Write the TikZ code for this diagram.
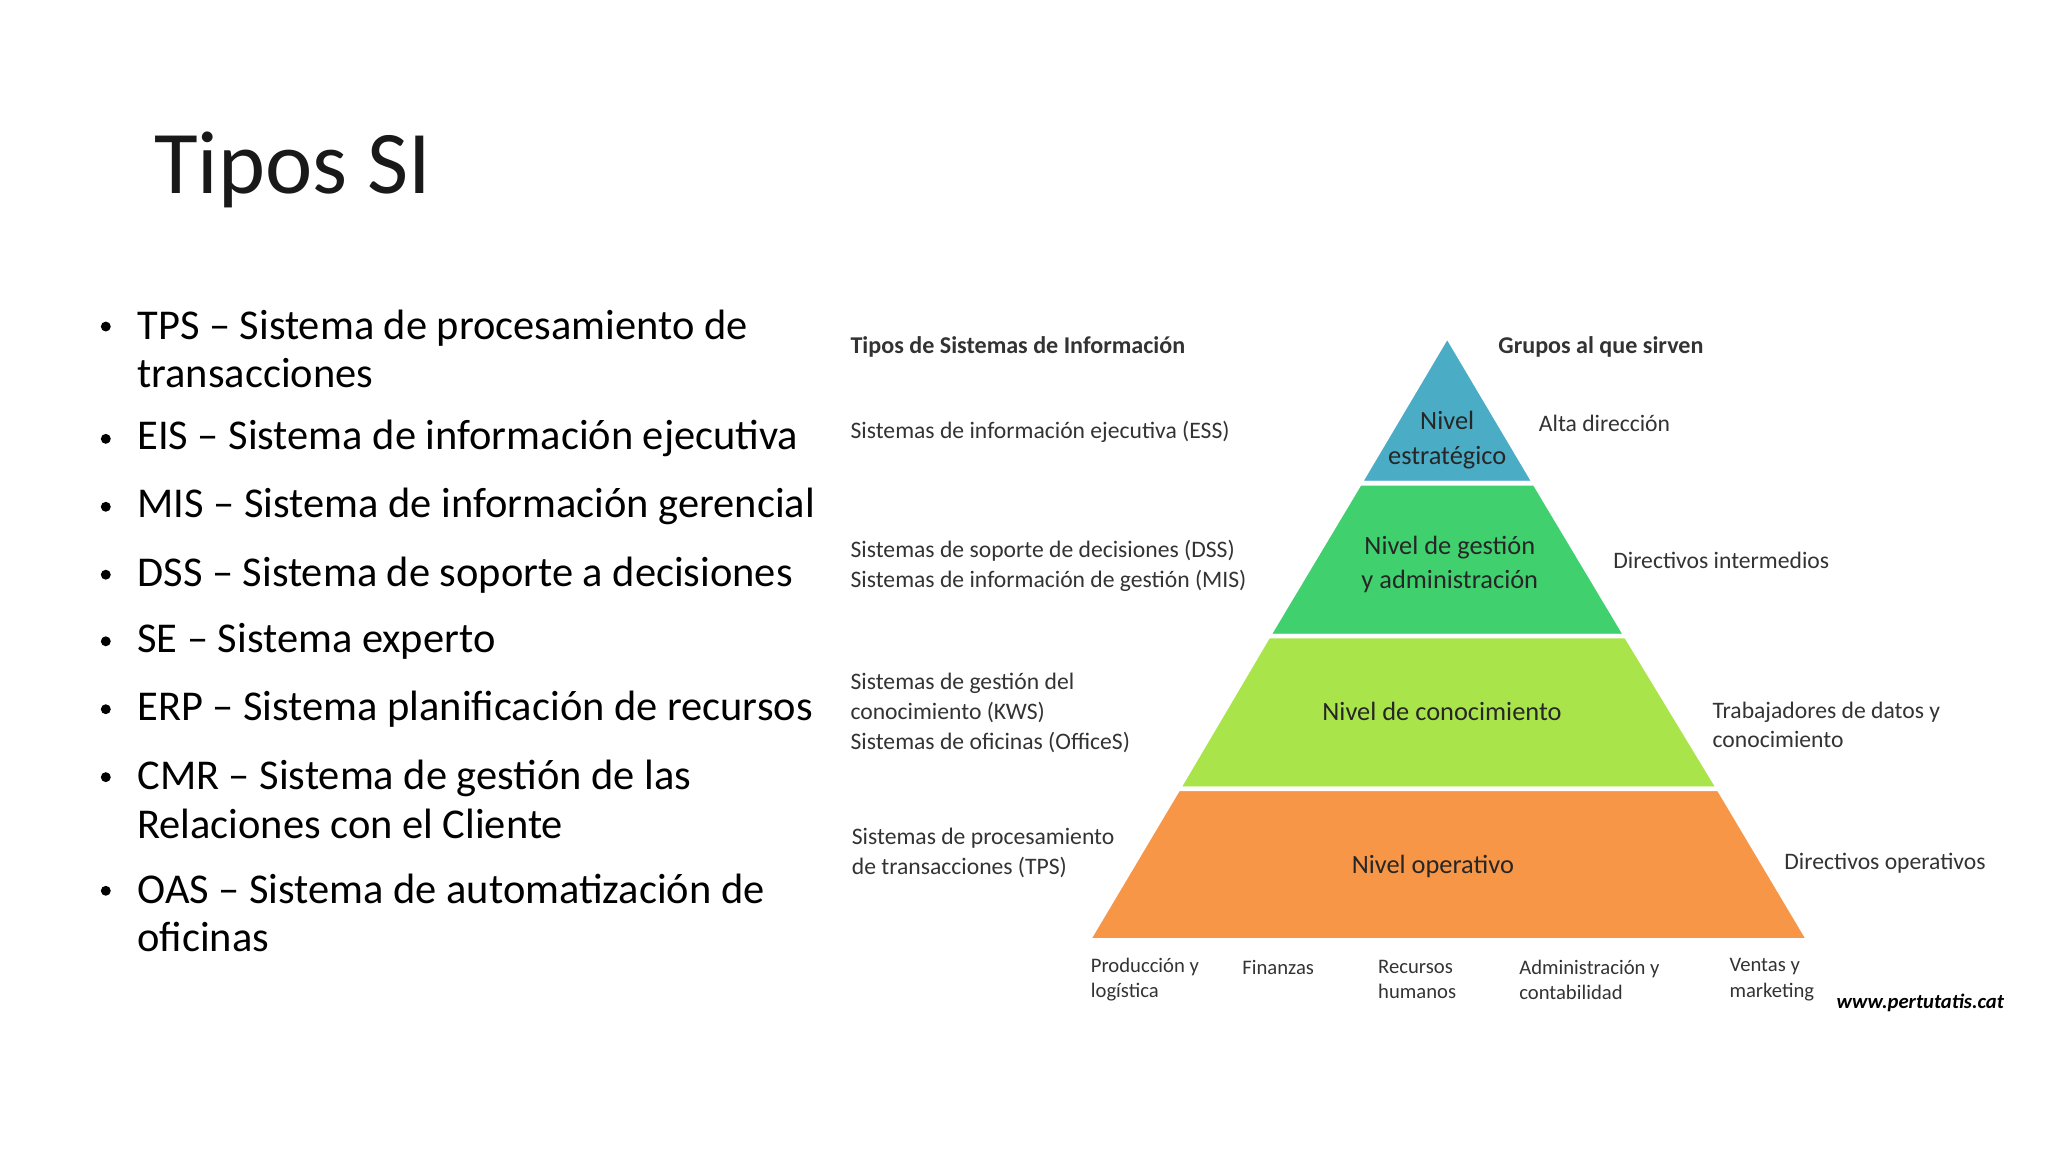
\documentclass[tikz,border=0pt]{standalone}
\usepackage{fontspec}
\setmainfont{Carlito}
\definecolor{cblue}{HTML}{4BACC6}
\definecolor{cgreen}{HTML}{40D06E}
\definecolor{clime}{HTML}{A9E44A}
\definecolor{corange}{HTML}{F79646}
\begin{document}
\begin{tikzpicture}[x=0.02cm,y=-0.02cm,
  band/.style={draw=white,line width=2pt},
  bl/.style={anchor=west,font=\fontsize{18.5}{21}\selectfont,align=left},
  sm/.style={anchor=west,font=\fontsize{10.3}{13}\selectfont,align=left,text=black!80},
  lv/.style={font=\fontsize{11.5}{15}\selectfont,align=center,text=black!85}]
\useasboundingbox (0,0) rectangle (1568,882);
\node[anchor=west,font=\fontsize{39}{42}\selectfont,text=black!90] (title) at (112,130) {Tipos SI};
% bullets
\foreach \y/\t in {267/{TPS – Sistema de procesamiento de\\transacciones},336/{EIS – Sistema de información ejecutiva},388/{MIS – Sistema de información gerencial},440/{DSS – Sistema de soporte a decisiones},491/{SE – Sistema experto},543/{ERP – Sistema planificación de recursos},612/{CMR – Sistema de gestión de las\\Relaciones con el Cliente},699/{OAS – Sistema de automatización de\\oficinas}}{
  \node[bl] at (99,\y) {\t};
}
\foreach \y in {250,336,388,440,491,543,595,682}{\fill (81,\y) circle (3.8);}
% pyramid
\filldraw[band,fill=cblue] (1108,257) -- (1175,370) -- (1041,370) -- cycle;
\filldraw[band,fill=cgreen] (1041,370) -- (1175,370) -- (1245,487) -- (971,487) -- cycle;
\filldraw[band,fill=clime] (971,487) -- (1245,487) -- (1316,604) -- (902,604) -- cycle;
\filldraw[band,fill=corange] (902,604) -- (1316,604) -- (1385,720) -- (833,720) -- cycle;
\node[lv] (l1) at (1108,337) {Nivel\\estratégico};
\node[lv] (l2) at (1110,432) {Nivel de gestión\\y administración};
\node[lv] (l3) at (1104,545) {Nivel de conocimiento};
\node[lv] (l4) at (1097,663) {Nivel operativo};
\node[sm,font=\fontsize{10.5}{13}\bfseries] at (645,266) {Tipos de Sistemas de Información};
\node[sm,font=\fontsize{10.5}{13}\bfseries] at (1141,266) {Grupos al que sirven};
\node[sm] at (645,331) {Sistemas de información ejecutiva (ESS)};
\node[sm] at (645,433) {Sistemas de soporte de decisiones (DSS)\\Sistemas de información de gestión (MIS)};
\node[sm] at (645,546) {Sistemas de gestión del\\conocimiento (KWS)\\Sistemas de oficinas (OfficeS)};
\node[sm] at (646,653) {Sistemas de procesamiento\\de transacciones (TPS)};
\node[sm] at (1172,324) {Alta dirección};
\node[sm] at (1229,429) {Directivos intermedios};
\node[sm] at (1305,555) {Trabajadores de datos y\\conocimiento};
\node[sm] at (1360,661) {Directivos operativos};
\foreach \x/\t in {829/{Producción y\\logística},945/{Finanzas\\\phantom{x}},1049/{Recursos\\humanos},1157/{Administración y\\contabilidad},1318/{Ventas y\\marketing}}{
  \node[sm,font=\fontsize{9}{11}\selectfont] at (\x,750) {\t};
}
\node[anchor=west,font=\fontsize{9}{11}\bfseries\itshape] (url) at (1400,768) {www.pertutatis.cat};
\end{tikzpicture}
\end{document}
